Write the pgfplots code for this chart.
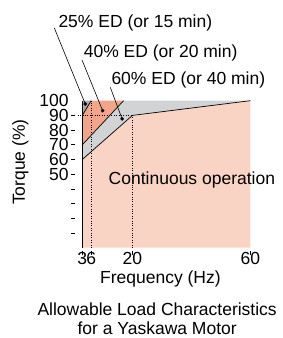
\documentclass[border=0pt]{standalone}
\usepackage{pgfplots}
\pgfplotsset{compat=1.18}
\usepackage{fontspec}
\setmainfont{Liberation Sans}
\definecolor{cpink}{HTML}{F9D3C3}
\definecolor{csalmon}{HTML}{F2A58B}
\definecolor{cgray}{HTML}{D1D3D4}
\definecolor{cdgray}{HTML}{A7A9AC}
\begin{document}
\begin{tikzpicture}[font=\fontsize{17.5}{19}\selectfont]
\begin{axis}[
  scale only axis, width=168pt, height=147pt,
  xmin=3, xmax=60, ymin=0, ymax=100,
  clip=false, axis on top,
  axis lines=left,
  axis line style={-, line width=0.8pt},
  x axis line style={draw=none},
  xtick={3,6,20,60},
  ytick={10,20,...,90},
  yticklabels={,,,,50,60,70,80,90},
  extra y ticks={100},
  extra y tick style={ytick style={draw=none}},
  tick align=outside,
  major tick length=4.5pt,
  ytick style={xshift=-7pt, line width=0.8pt, black},
  xtick style={yshift=-3pt, line width=0.8pt, black},
  /pgf/number format/assume math mode=true,
  tick label style={inner sep=0pt},
  yticklabel style={xshift=-9pt},
  xticklabel style={yshift=0pt},
]
\addplot[fill=cpink, draw=none] coordinates {(3,0)(3,60)(20,90)(60,100)(60,0)} -- cycle;
\addplot[fill=cgray, draw=none] coordinates {(3,60)(3,70)(17,100)(60,100)(20,90)} -- cycle;
\addplot[fill=csalmon, draw=none] coordinates {(3,70)(3,90)(6,100)(17,100)} -- cycle;
\addplot[fill=cdgray, draw=none] coordinates {(3,90)(3,100)(6,100)} -- cycle;
\addplot[black, line width=0.6pt, dash pattern=on 0.8pt off 1.6pt] coordinates {(1.5,90)(20,90)};
\addplot[black, line width=0.6pt, dash pattern=on 0.8pt off 1.6pt] coordinates {(6,0)(6,100)};
\addplot[black, line width=0.6pt, dash pattern=on 0.8pt off 1.6pt] coordinates {(20,0)(20,90)};
\addplot[black, line width=0.7pt] coordinates {(3,60)(20,90)(60,100)};
\addplot[black, line width=0.7pt] coordinates {(3,70)(17,100)};
\addplot[black, line width=0.7pt] coordinates {(3,90)(6,100)};
\addplot[black, line width=0.6pt] coordinates {(-6.5,149.5)(4,97.8)};
\addplot[black, line width=0.6pt] coordinates {(2.9,127.7)(9.9,93.2)};
\addplot[black, line width=0.6pt] coordinates {(12.5,109.1)(16.5,87.6)};
\addplot[only marks, mark=*, mark size=1.6pt, black] coordinates {(4,97.8)(9.9,93.2)(16.5,87.6)};
\node[anchor=base west, inner sep=0pt] at (axis cs:-5.14,149.5) {25\% ED (or 15 min)};
\node[anchor=base west, inner sep=0pt] at (axis cs:3.44,129.7) {40\% ED (or 20 min)};
\node[anchor=base west, inner sep=0pt] at (axis cs:12.84,111.2) {60\% ED (or 40 min)};
\node[anchor=base west, inner sep=0pt] at (axis cs:11.9,42.7) {Continuous operation};
\node[rotate=90, anchor=center, inner sep=0pt] at (axis cs:-18.0,58.3) {Torque (\%)};
\node[anchor=base, inner sep=0pt] at (axis cs:29.5,-24.2) {Frequency (Hz)};
\node[anchor=base, inner sep=0pt] at (axis cs:28.4,-45.8) {Allowable Load Characteristics};
\node[anchor=base, inner sep=0pt] at (axis cs:28.4,-58.9) {for a Yaskawa Motor};
\coordinate (O) at (axis cs:3,0);
\end{axis}
\pgfresetboundingbox
\path (O) ++(-82.3pt,-90.3pt) rectangle ++(282pt,338pt);
\end{tikzpicture}
\end{document}
